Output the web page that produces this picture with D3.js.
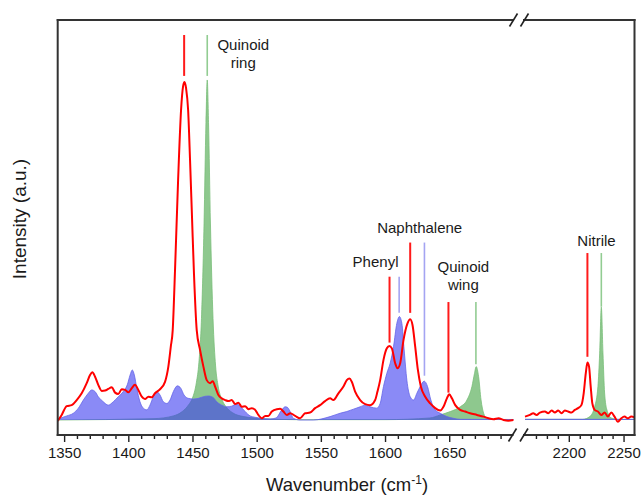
<!DOCTYPE html>
<html><head><meta charset="utf-8">
<script src="https://cdn.jsdelivr.net/npm/d3@7"></script>
<style>
body{margin:0;background:#fff}
svg{display:block}
text{font-family:"Liberation Sans",Arial,Helvetica,sans-serif;fill:#1a1a1a}
</style>
</head><body>
<svg id="chart" width="642" height="496"></svg>
<script>
// ---- data (wavenumber cm^-1, intensity a.u.) ----
const redWave = [1345,1348.1,1352,1355.9,1359.8,1363.7,1367.6,1370.2,1372,1374.1,1376.6,1379.3,1381.9,1384.4,1387.1,1389.7,1392.2,1394.9,1397.5,1400,1402.7,1405.2,1407.8,1410.5,1413,1415.6,1418.3,1420.8,1424.7,1428.6,1431.2,1433.1,1434.6,1436.4,1438.8,1441.1,1442.7,1443.8,1445,1446.6,1448.1,1449.7,1451.2,1453.3,1455.9,1458.5,1461.1,1463.7,1465.8,1467.6,1470.2,1472.8,1475.4,1478,1480.6,1483.2,1485.8,1488.4,1491,1493.6,1496.2,1498.8,1501.3,1504,1506.6,1509.1,1511.8,1515.7,1518.3,1520.8,1523.5,1526.1,1530,1533.8,1537.7,1541.6,1545.5,1549.4,1553.3,1557.2,1559.8,1563.7,1567.6,1570.2,1572.3,1574.1,1576.7,1580.6,1584.5,1588.4,1592.3,1594.1,1596.2,1598.8,1601.4,1603.4,1605.3,1607.9,1609.7,1611.8,1614.4,1617.5,1619.6,1621.4,1623.5,1625.6,1627.9,1631.3,1635.2,1639.1,1643,1645.5,1648.2,1650,1652.1,1654.7,1658.5,1662.4,1666.3,1671.6,1676.7,1680.6,1684.5,1688.4,1692.3,1696,1700,
  2160,2164.5,2167.5,2170.6,2173.6,2178.2,2181.2,2184.3,2187.3,2190.3,2193.4,2196.4,2199.4,2202.5,2205.5,2208.5,2211.5,2213.6,2215.5,2217,2218.5,2220,2221.5,2223.6,2226.6,2229.7,2232.7,2235.7,2238.8,2241.8,2244.8,2247.9,2250.9,2253.9,2257,2260];
const redInt = [-0.3,1.5,4.1,4.4,5.9,7.9,10.9,13.3,14.1,12.8,10.4,8.6,8.7,9.2,9.7,8.1,7.7,9.1,8.9,8.2,9.4,10.4,8.9,6.9,6.2,6.9,6.7,7.9,9.1,11.3,15.8,21.7,26.6,44.4,71,91.7,98.8,100,98.2,91.7,76.9,59.2,42.9,26.6,20.7,15.8,11.8,10.9,11.5,9.9,7.4,6.4,5.9,5.6,5.9,4.7,5.1,3.9,4.1,3.2,3.5,3,1.5,0.5,1.2,1.2,2.5,3.2,3.3,2.5,1.5,2,1.2,0.5,2,2.2,3.5,4.4,5.6,6.4,5.9,7.9,9.9,11.8,12.3,11.3,8.4,5.9,4.7,4.4,5.9,8.4,11.8,17.8,21.2,21.9,21.2,16.8,15.3,16.8,23.7,28.6,29.8,28.1,21.7,14.8,9.9,6.9,4.9,3.5,2.8,3.9,6.4,7.6,6.4,4.4,3,2.5,2,1.5,1,0.5,0.2,0.5,0,-0.2,0,
  1,1.5,2,1.5,2.2,2.5,2,2.8,2.2,2.8,2,2.8,2.5,2.2,3,3.5,4.4,7.9,13.8,17,15.8,9.9,4.9,3,2.5,1.5,2.2,1,2.2,1,-0.5,0.5,1,0.5,1,0.8];

const blueWave = [1345,1346.8,1352,1357.2,1361.1,1365,1368.8,1371.5,1374.1,1376.6,1380.5,1384.4,1388.3,1392.2,1396.1,1399.2,1401.4,1403.1,1404.7,1406.6,1409.1,1411.7,1414.4,1416.9,1419.5,1422.2,1424.7,1427.3,1430,1432.5,1435.1,1438.2,1440.9,1443.4,1446.8,1450.7,1454.6,1458.5,1462.4,1466.3,1468.9,1472.8,1476.7,1480.6,1484.5,1487.1,1491,1494.9,1498.8,1502.7,1510.5,1515.1,1519.6,1522.2,1523.7,1526.1,1528.6,1533.8,1544.2,1557.2,1565,1570.2,1575.4,1580.6,1584.5,1588.4,1593.6,1596.2,1598.8,1601.4,1604,1606.6,1609.2,1611.2,1613.1,1614.9,1617,1619.6,1622.2,1624.8,1627.4,1630.5,1633.1,1635.7,1639.1,1643,1648.2,1653.3,1658.6,1700,
  2160,2260];
const blueInt = [0.3,0.5,1.2,2,3.5,5.9,7.9,8.9,8.4,6.9,5.4,4.4,5.4,6.9,8.4,10.4,13.3,14.8,13.3,9.4,5.4,3.5,3,4.4,6.9,8.4,7.4,5.4,4.9,5.9,8.4,10.1,9.4,7.4,6.4,6.2,6.4,6.9,7.1,6.6,5.4,4.4,3.9,4.1,4.7,4.1,2.5,1.2,0.8,0.5,0.3,0.6,3,3.9,3.8,2.5,0.5,0,0,1,2,2.5,3.2,3.9,4.4,3.9,3.5,4.9,9.9,13.8,16.8,21.7,28.6,30.6,28.6,20.7,11.8,6.9,5.9,7.9,9.9,11.5,9.9,5.9,3,2,1,0.5,0.2,0.15,
  0.2,0.2];

const greenWave = [1345,1420,1435,1442,1447,1450,1453,1455,1457,1459,1460.5,1461.5,1462.5,1464,1466,1468,1470,1473,1476,1481,1490,1505,1530,1600,1635,1643,1650.8,1658.6,1663.8,1667.7,1669.7,1671,1672.9,1674.8,1676.8,1679.4,1686,1700,
  2160,2212.7,2219.1,2223.6,2226.6,2228.2,2229.7,2231.2,2232.7,2234.8,2238.8,2246.4,2260];
const greenInt = [0,0.4,1.2,2.5,4.5,6.5,11,17,30,58,88,100.6,88,58,30,16,10,6,4,2.2,1,0.4,0.1,0.1,0.6,1.5,2.5,3.9,5.9,9.9,13.8,15.8,12.8,5.9,2,0.5,0.15,0.1,
  0.2,0.2,1,3.9,9.9,19.8,33.4,19.8,8,3,0.6,0.15,0.15];

// assignment markers
const markerWave   = [1443.5,1461.5,1603.5,1611,1619.6,1630.7,1649.4,1670.8,2217,2229.7];
const markerTop    = [113.9,113.9,42.4,42.4,52.5,52.5,34.9,34.9,49.4,49.4];
const markerBottom = [101.8,101.8,22.9,31.7,31.7,13.1,8.1,16.5,18.7,33.5];
const markerKind   = ["exp","green","exp","blue","exp","blue","exp","green","exp","green"];

// peak labels
const labelText  = [["Quinoid","ring"],["Phenyl"],["Naphthalene"],["Quinoid","wing"],["Nitrile"]];
const labelWave  = [1489.6,1592.6,1627.0,1661.0,2225.3];
const labelInt   = [109.5,45.4,55.2,43.7,51.5];

const majorLeft  = [1350,1400,1450,1500,1550,1600,1650];
const majorRight = [2200,2250];

// ---- layout ----
const svg = d3.select("#chart");
const L = 57.7, R = 634.5, T = 20, B = 435;
const xL = d3.scaleLinear().domain([1345,1700]).range([L,513.4]);
const xR = d3.scaleLinear().domain([2160,2260]).range([525,R]);
const y  = d3.scaleLinear().domain([0,100]).range([420,82]);

function seg(ws, is, lo, hi){
  const out=[];
  for(let k=0;k<ws.length;k++) if(ws[k]>=lo && ws[k]<=hi) out.push([ws[k],is[k]]);
  return out;
}
const parts = [{sc:xL,lo:1345,hi:1700},{sc:xR,lo:2160,hi:2260}];
const curve = d3.curveMonotoneX;

svg.append("defs").append("clipPath").attr("id","pc")
  .append("rect").attr("x",L).attr("y",T).attr("width",R-L).attr("height",B-T);
const g = svg.append("g").attr("clip-path","url(#pc)");

parts.forEach(p=>{
  const area = d3.area().curve(curve).x(d=>p.sc(d[0])).y0(y(0)).y1(d=>y(d[1]));
  const line = d3.line().curve(curve).x(d=>p.sc(d[0])).y(d=>y(d[1]));
  const gd = seg(greenWave,greenInt,p.lo,p.hi);
  const bd = seg(blueWave,blueInt,p.lo,p.hi);
  g.append("path").datum(gd).attr("d",area).attr("fill","rgb(60,160,60)").attr("fill-opacity",0.58);
  g.append("path").datum(gd).attr("d",line).attr("fill","none").attr("stroke","rgb(120,190,120)").attr("stroke-width",0.8);
  g.append("path").datum(bd).attr("d",area).attr("fill","rgb(60,60,240)").attr("fill-opacity",0.6);
  g.append("path").datum(bd).attr("d",line).attr("fill","none").attr("stroke","rgb(100,100,232)").attr("stroke-width",0.8);
});

// markers
const mColor = {exp:"#ff1a1a", blue:"#a4a4f2", green:"#92cc92"};
const mWidth = {exp:2, blue:1.6, green:1.6};
markerWave.forEach((w,k)=>{
  const sc = w<=1700?xL:xR;
  svg.append("line").attr("x1",sc(w)).attr("x2",sc(w))
    .attr("y1",y(markerTop[k])).attr("y2",y(markerBottom[k]))
    .attr("stroke",mColor[markerKind[k]]).attr("stroke-width",mWidth[markerKind[k]]);
});

parts.forEach(p=>{
  const line = d3.line().curve(curve).x(d=>p.sc(d[0])).y(d=>y(d[1]));
  g.append("path").datum(seg(redWave,redInt,p.lo,p.hi)).attr("d",line)
    .attr("fill","none").attr("stroke","#ff0000").attr("stroke-width",2).attr("stroke-linejoin","round");
});

// labels
labelText.forEach((lines,k)=>{
  const sc = labelWave[k]<=1700?xL:xR;
  const t = svg.append("text").attr("x",sc(labelWave[k])).attr("y",y(labelInt[k]))
    .attr("text-anchor","middle").attr("font-size",15);
  lines.forEach((s,i)=>t.append("tspan").attr("x",sc(labelWave[k])).attr("dy",i?18:0).text(s));
});

// axes
function axis(sc, majors, minorVals){
  const ga = svg.append("g").attr("transform",`translate(0,${B})`);
  ga.call(d3.axisBottom(sc).tickValues(minorVals).tickSize(4).tickFormat(""));
  const gm = svg.append("g").attr("transform",`translate(0,${B})`);
  gm.call(d3.axisBottom(sc).tickValues(majors).tickSize(7).tickPadding(5).tickFormat(d3.format("d")));
  [ga,gm].forEach(a=>{a.select(".domain").remove(); a.selectAll("line").attr("stroke","#222").attr("stroke-width",1.4);});
  gm.selectAll("text").attr("font-size",15).attr("font-family","Liberation Sans, Arial, sans-serif").attr("fill","#1a1a1a");
}
axis(xL, majorLeft, d3.range(1350,1700,10).filter(v=>v%50!==0));
axis(xR, majorRight, d3.range(2170,2260,10).filter(v=>v%50!==0));

// frame with break
const fc = "#333", fw = 2;
const fr = svg.append("g").attr("stroke",fc).attr("stroke-width",fw).attr("fill","none").attr("stroke-linecap","square");
fr.append("line").attr("x1",L).attr("x2",L).attr("y1",T).attr("y2",B);
fr.append("line").attr("x1",R).attr("x2",R).attr("y1",T).attr("y2",B);
fr.append("line").attr("x1",L).attr("x2",512.5).attr("y1",B).attr("y2",B);
fr.append("line").attr("x1",524).attr("x2",R).attr("y1",B).attr("y2",B);
fr.append("line").attr("x1",L).attr("x2",513).attr("y1",T).attr("y2",T);
fr.append("line").attr("x1",524).attr("x2",R).attr("y1",T).attr("y2",T);
const br = svg.append("g").attr("stroke","#222").attr("stroke-width",1.6);
[[512.5,B],[524,B],[513.5,T],[524.5,T]].forEach(([cx,cy])=>{
  br.append("line").attr("x1",cx-4).attr("y1",cy+6.5).attr("x2",cx+4).attr("y2",cy-6.5);
});

// axis titles
const xt = svg.append("text").attr("x",347).attr("y",491).attr("text-anchor","middle").attr("font-size",18.5);
xt.append("tspan").text("Wavenumber (cm");
xt.append("tspan").attr("font-size",12).attr("dy",-7).text("-1");
xt.append("tspan").attr("dy",7).text(")");
svg.append("text").attr("transform","translate(26,219) rotate(-90)").attr("text-anchor","middle")
  .attr("font-size",19).text("Intensity (a.u.)");
</script>
</body></html>
